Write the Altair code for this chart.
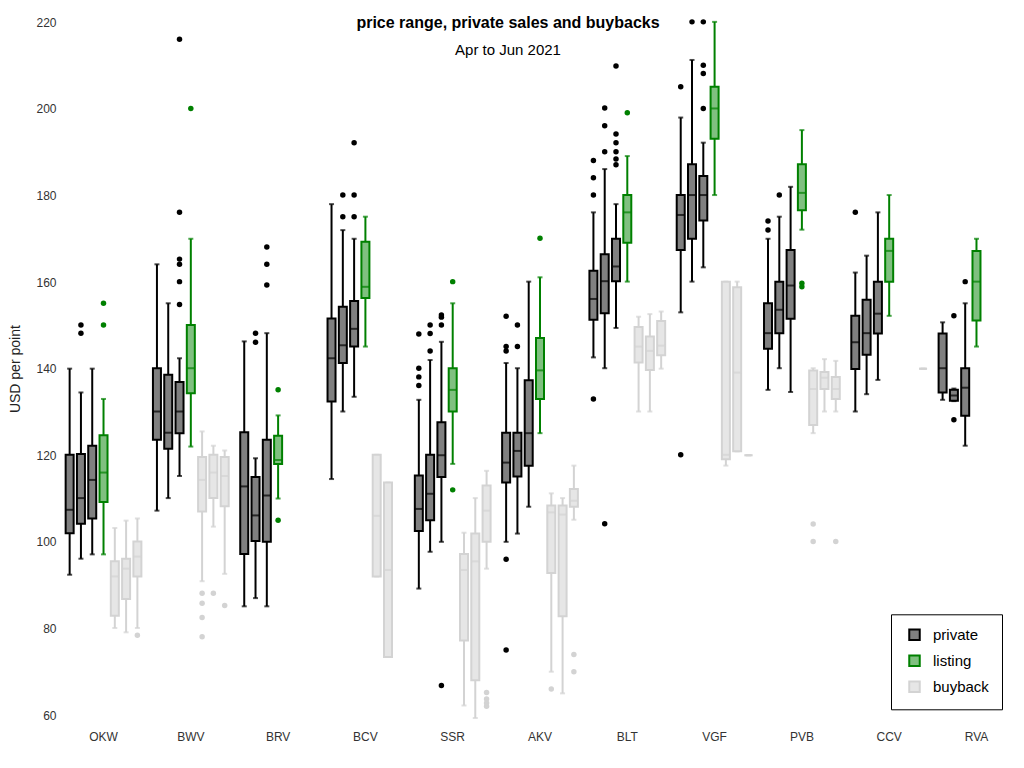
import altair as alt
import pandas as pd

cats = ["OKW", "BWV", "BRV", "BCV", "SSR", "AKV", "BLT", "VGF", "PVB", "CCV", "RVA"]
slots = ["private Apr", "private May", "private Jun", "listing",
         "buyback Apr", "buyback May", "buyback Jun"]
kinds = ["private", "listing", "buyback"]

# (slot, low whisker, q1, median, q3, high whisker)
OKW = [("private Apr", 92.4, 102.0, 107.4, 120.1, 140.0),
       ("private May", 96.1, 104.2, 110.1, 120.3, 134.5),
       ("private Jun", 97.1, 105.4, 114.3, 122.2, 140.0),
       ("listing", 97.1, 109.2, 116.0, 124.6, 133.0),
       ("buyback Apr", 80.1, 82.9, 92.0, 95.5, 103.2),
       ("buyback May", 79.1, 86.8, 93.8, 96.1, 104.9),
       ("buyback Jun", 80.1, 92.0, 96.6, 100.1, 105.4)]
BWV = [("private Apr", 107.2, 123.6, 130.1, 140.1, 164.1),
       ("private May", 110.1, 121.5, 125.2, 138.6, 155.1),
       ("private Jun", 115.2, 125.1, 130.1, 136.9, 142.4),
       ("listing", 122.0, 134.3, 140.1, 150.1, 170.0),
       ("buyback Apr", 90.9, 107.0, 114.3, 119.6, 125.5),
       ("buyback May", 103.5, 110.1, 116.0, 120.1, 122.2),
       ("buyback Jun", 92.6, 108.2, 115.2, 119.6, 121.1)]
BRV = [("private Apr", 85.1, 97.2, 112.8, 125.3, 146.3),
       ("private May", 87.0, 100.2, 106.1, 115.0, 119.3),
       ("private Jun", 85.1, 100.0, 110.7, 123.6, 148.2),
       ("listing", 110.0, 118.0, 118.9, 124.5, 129.2)]
BCV = [("private Apr", 114.5, 132.4, 142.4, 151.6, 178.0),
       ("private May", 130.1, 141.3, 145.4, 154.3, 172.0),
       ("private Jun", 133.5, 145.1, 149.2, 155.6, 170.0),
       ("listing", 145.1, 156.3, 158.9, 169.3, 175.1),
       ("buyback Apr", 92.0, 92.0, 106.0, 120.1, 120.1),
       ("buyback May", 73.4, 73.4, 93.5, 113.7, 113.7)]
SSR = [("private Apr", 89.2, 102.5, 107.6, 115.3, 132.8),
       ("private May", 97.7, 105.0, 111.1, 120.1, 142.0),
       ("private Jun", 100.0, 115.0, 120.0, 127.6, 146.2),
       ("listing", 118.0, 130.1, 135.1, 140.1, 155.1),
       ("buyback Apr", 62.2, 77.2, 93.5, 97.2, 102.1),
       ("buyback May", 59.3, 68.0, 95.5, 101.9, 110.1),
       ("buyback Jun", 93.8, 100.0, 107.2, 113.0, 116.4)]
AKV = [("private Apr", 100.0, 113.7, 118.3, 125.2, 141.3),
       ("private May", 101.9, 115.1, 121.0, 125.2, 140.1),
       ("private Jun", 108.1, 117.6, 125.1, 137.3, 160.1),
       ("listing", 125.1, 133.0, 139.6, 147.1, 161.1),
       ("buyback Apr", 70.0, 92.8, 106.8, 108.4, 111.2),
       ("buyback May", 65.0, 82.8, 106.3, 108.4, 110.1),
       ("buyback Jun", 105.1, 108.1, 109.5, 112.2, 117.6)]
BLT = [("private Apr", 142.6, 151.3, 156.1, 162.6, 176.1),
       ("private May", 140.1, 152.8, 160.2, 166.4, 186.1),
       ("private Jun", 149.4, 160.2, 163.6, 170.0, 178.0),
       ("listing", 160.1, 169.1, 176.1, 180.1, 189.1),
       ("buyback Apr", 130.1, 141.4, 145.1, 149.6, 152.0),
       ("buyback May", 130.1, 139.7, 144.1, 147.4, 152.6),
       ("buyback Jun", 140.0, 143.1, 145.3, 151.0, 153.2)]
VGF = [("private Apr", 153.0, 167.4, 175.5, 180.1, 198.0),
       ("private May", 160.1, 170.0, 180.1, 187.2, 211.3),
       ("private Jun", 163.4, 174.2, 180.1, 184.5, 192.2),
       ("listing", 180.1, 193.1, 200.1, 205.1, 220.1),
       ("buyback Apr", 117.6, 119.1, 120.1, 160.1, 160.1),
       ("buyback May", 120.9, 120.9, 139.1, 158.8, 160.1),
       ("buyback Jun", 120.0, 120.0, 120.0, 120.0, 120.0)]
PVB = [("private Apr", 135.1, 144.6, 148.2, 155.1, 170.0),
       ("private May", 140.1, 148.2, 153.6, 160.1, 175.1),
       ("private Jun", 134.6, 151.5, 159.2, 167.4, 182.0),
       ("listing", 172.1, 176.6, 180.6, 187.2, 195.1),
       ("buyback Apr", 125.1, 127.0, 135.3, 139.6, 140.1),
       ("buyback May", 130.1, 135.3, 137.9, 139.2, 142.2),
       ("buyback Jun", 130.1, 133.0, 135.3, 138.1, 141.8)]
CCV = [("private Apr", 130.1, 139.9, 146.1, 152.2, 162.2),
       ("private May", 134.1, 143.2, 148.2, 155.9, 166.1),
       ("private Jun", 137.4, 148.1, 152.7, 160.1, 176.1),
       ("listing", 152.2, 160.1, 167.2, 170.0, 180.1),
       ("buyback Jun", 140.0, 140.0, 140.0, 140.0, 140.0)]
RVA = [("private Apr", 132.8, 134.5, 140.1, 148.1, 150.7),
       ("private May", 132.5, 132.6, 133.8, 135.1, 135.4),
       ("private Jun", 122.2, 129.1, 135.6, 140.1, 155.1),
       ("listing", 145.1, 151.1, 160.1, 167.2, 170.0)]

# outliers: (slot, value)
OKW_OUT = [("private May", 150.1), ("private May", 148.2), ("listing", 155.1),
           ("listing", 150.1), ("buyback Jun", 78.4)]
BWV_OUT = [("private Jun", 216.1), ("private Jun", 176.1), ("private Jun", 165.3),
           ("private Jun", 164.1), ("private Jun", 160.1), ("private Jun", 154.8),
           ("listing", 200.1), ("buyback Apr", 88.1), ("buyback Apr", 85.8),
           ("buyback Apr", 82.5), ("buyback Apr", 78.1), ("buyback May", 88.1),
           ("buyback Jun", 85.3)]
BRV_OUT = [("private May", 148.2), ("private May", 146.1), ("private Jun", 168.1),
           ("private Jun", 164.1), ("private Jun", 159.3), ("listing", 135.1),
           ("listing", 105.0)]
BCV_OUT = [("private May", 180.1), ("private May", 175.1), ("private Jun", 192.2),
           ("private Jun", 180.1), ("private Jun", 175.1)]
SSR_OUT = [("private Apr", 148.0), ("private Apr", 140.1), ("private Apr", 138.1),
           ("private Apr", 136.1), ("private May", 150.1), ("private May", 148.1),
           ("private May", 144.1), ("private Jun", 152.4), ("private Jun", 151.9),
           ("private Jun", 150.1), ("private Jun", 66.8), ("listing", 160.1),
           ("listing", 112.0), ("buyback Jun", 65.2), ("buyback Jun", 63.7),
           ("buyback Jun", 62.8), ("buyback Jun", 62.0)]
AKV_OUT = [("private Apr", 152.1), ("private Apr", 145.1), ("private Apr", 144.1),
           ("private Apr", 96.0), ("private Apr", 75.0), ("private May", 150.1),
           ("private May", 145.1), ("listing", 170.1), ("buyback Apr", 66.0),
           ("buyback Jun", 74.0), ("buyback Jun", 70.0)]
BLT_OUT = [("private Apr", 188.1), ("private Apr", 184.1), ("private Apr", 180.1),
           ("private Apr", 133.0), ("private May", 200.2), ("private May", 196.1),
           ("private May", 190.1), ("private May", 104.2), ("private Jun", 209.9),
           ("private Jun", 194.2), ("private Jun", 192.2), ("private Jun", 190.1),
           ("private Jun", 188.4), ("private Jun", 187.1), ("listing", 199.1)]
VGF_OUT = [("private Apr", 205.1), ("private Apr", 120.1), ("private May", 220.1),
           ("private Jun", 220.1), ("private Jun", 210.1), ("private Jun", 208.2),
           ("private Jun", 200.1)]
PVB_OUT = [("private Apr", 174.1), ("private Apr", 172.0), ("private May", 180.1),
           ("listing", 225.0), ("listing", 159.7), ("listing", 158.9),
           ("buyback Apr", 104.1), ("buyback Apr", 100.1), ("buyback Jun", 100.1)]
CCV_OUT = [("private Apr", 176.1)]
RVA_OUT = [("private May", 152.2), ("private May", 128.2), ("private Jun", 160.1)]

box_groups = {"OKW": OKW, "BWV": BWV, "BRV": BRV, "BCV": BCV, "SSR": SSR, "AKV": AKV,
              "BLT": BLT, "VGF": VGF, "PVB": PVB, "CCV": CCV, "RVA": RVA}
out_groups = {"OKW": OKW_OUT, "BWV": BWV_OUT, "BRV": BRV_OUT, "BCV": BCV_OUT,
              "SSR": SSR_OUT, "AKV": AKV_OUT, "BLT": BLT_OUT, "VGF": VGF_OUT,
              "PVB": PVB_OUT, "CCV": CCV_OUT, "RVA": RVA_OUT}

rows = []
for c, lst in box_groups.items():
    for s, lo, q1, med, q3, hi in lst:
        rows.append(dict(cat=c, slot=s, kind=s.split(" ")[0], lo=lo, q1=q1,
                         med=med, q3=q3, hi=hi))
df_box = pd.DataFrame(rows)
orows = []
for c, lst in out_groups.items():
    for s, v in lst:
        orows.append(dict(cat=c, slot=s, kind=s.split(" ")[0], value=v))
df_out = pd.DataFrame(orows)

fill_range = ["#808080", "#80c080", "#e6e6e6"]
line_range = ["#000000", "#008000", "#d3d3d3"]
# alphabetical order (buyback, listing, private) for the data-driven line scale
line_range_sorted = ["#d3d3d3", "#008000", "#000000"]

X = alt.X("cat:N", sort=cats,
          scale=alt.Scale(type="band", domain=cats, paddingInner=0.0946, paddingOuter=0),
          axis=alt.Axis(title=None, labelAngle=0, domain=False, ticks=False, grid=False,
                        labelPadding=16, labelFontSize=12, labelColor="#333333"))
XO = alt.XOffset("slot:N", scale=alt.Scale(domain=slots, paddingInner=0, paddingOuter=0))
yscale = alt.Scale(domain=[60, 220], nice=False, zero=False)
yaxis = alt.Axis(title="USD per point", values=[60, 80, 100, 120, 140, 160, 180, 200, 220],
                 domain=False, ticks=False, grid=False, labelPadding=8, labelFontSize=12,
                 labelColor="#333333", titleFontSize=14, titleFontWeight="normal",
                 titleColor="#222222", titlePadding=13)
LINE = alt.Color("kind:N", scale=alt.Scale(range=line_range_sorted), legend=None)

legend = alt.Legend(title=None, orient="none", legendX=827, legendY=592,
                    symbolType="square", symbolSize=110, symbolStrokeWidth=2,
                    labelFontSize=15, labelColor="black", padding=13, rowPadding=7,
                    strokeColor="black", fillColor="white", labelOffset=11,
                    symbolOffset=3)

base = alt.Chart(df_box)
whisk = base.mark_rule(strokeWidth=2).encode(
    x=X, xOffset=XO, y=alt.Y("lo:Q", scale=yscale, axis=yaxis), y2="hi:Q", color=LINE)
cap_lo = base.mark_tick(size=5, thickness=2).encode(x=X, xOffset=XO, y="lo:Q", color=LINE)
cap_hi = base.mark_tick(size=5, thickness=2).encode(x=X, xOffset=XO, y="hi:Q", color=LINE)
box = base.mark_bar(size=8, strokeWidth=2).encode(
    x=X, xOffset=XO, y="q1:Q", y2="q3:Q",
    fill=alt.Fill("kind:N", scale=alt.Scale(domain=kinds, range=fill_range), legend=legend),
    stroke=alt.Stroke("kind:N", scale=alt.Scale(domain=kinds, range=line_range), legend=legend))
med = base.mark_tick(size=8, thickness=2).encode(x=X, xOffset=XO, y="med:Q", color=LINE)
pts = alt.Chart(df_out).mark_circle(size=30, opacity=1).encode(
    x=X, xOffset=XO, y="value:Q", color=LINE)

chart = alt.layer(whisk, cap_lo, cap_hi, box, med, pts).properties(
    width=952, height=692.7,
    autosize=alt.AutoSizeParams(type="none"),
    padding={"left": 56, "top": 14.3, "right": 0, "bottom": 35},
    title=alt.Title("price range, private sales and buybacks", subtitle="Apr to Jun 2021",
                    fontSize=16, fontWeight="bold", color="black", subtitleFontSize=15,
                    subtitleColor="black", anchor="middle", offset=-60, dx=-32,
                    subtitlePadding=12, frame="group"),
).configure(font="Liberation Sans").configure_view(stroke=None)

chart.save("out.html", embed_options={"renderer": "svg", "actions": False})
